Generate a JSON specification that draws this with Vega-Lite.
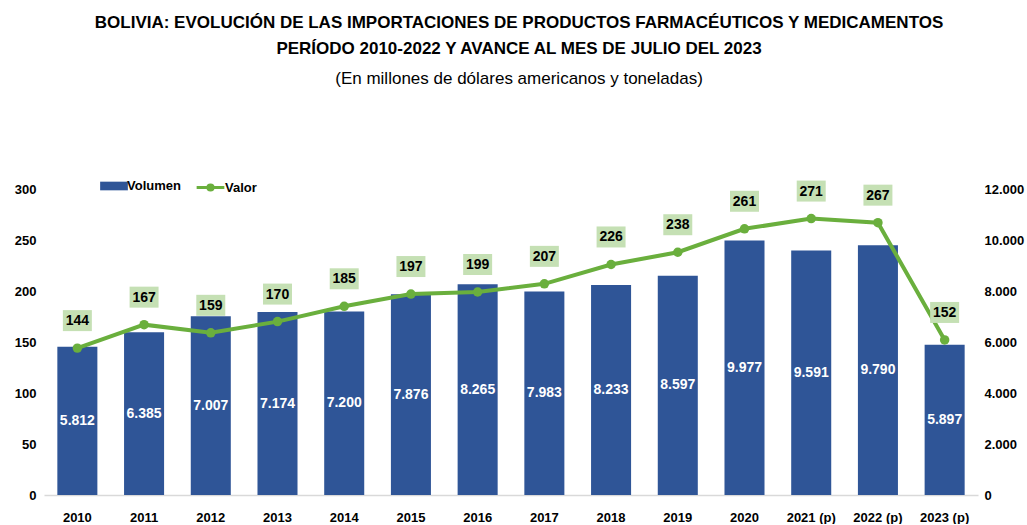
{
  "$schema": "https://vega.github.io/schema/vega-lite/v6.json",
  "width": 934,
  "height": 306,
  "autosize": {"type": "pad"},
  "padding": {"left": 14, "top": 14, "right": 2, "bottom": 0},
  "config": {
    "locale": {"number": {"decimal": ",", "thousands": ".", "grouping": [3], "currency": ["$", ""]}},
    "view": {"stroke": null},
    "font": "Liberation Sans, Arial"
  },
  "title": {
    "text": ["BOLIVIA: EVOLUCIÓN DE LAS IMPORTACIONES DE PRODUCTOS FARMACÉUTICOS Y MEDICAMENTOS", "PERÍODO 2010-2022 Y AVANCE AL MES DE JULIO DEL 2023"],
    "subtitle": "(En millones de dólares americanos y toneladas)",
    "fontSize": 17,
    "fontWeight": "bold",
    "lineHeight": 26,
    "color": "#000000",
    "subtitleFontSize": 17,
    "subtitleColor": "#000000",
    "subtitlePadding": 13,
    "offset": 89,
    "anchor": "middle",
    "frame": "bounds"
  },
  "data": {
    "values": [
      {"anio": "2010", "vol": 5812, "valor": 144},
      {"anio": "2011", "vol": 6385, "valor": 167},
      {"anio": "2012", "vol": 7007, "valor": 159},
      {"anio": "2013", "vol": 7174, "valor": 170},
      {"anio": "2014", "vol": 7200, "valor": 185},
      {"anio": "2015", "vol": 7876, "valor": 197},
      {"anio": "2016", "vol": 8265, "valor": 199},
      {"anio": "2017", "vol": 7983, "valor": 207},
      {"anio": "2018", "vol": 8233, "valor": 226},
      {"anio": "2019", "vol": 8597, "valor": 238},
      {"anio": "2020", "vol": 9977, "valor": 261},
      {"anio": "2021 (p)", "vol": 9591, "valor": 271},
      {"anio": "2022 (p)", "vol": 9790, "valor": 267},
      {"anio": "2023 (p)", "vol": 5897, "valor": 152}
    ]
  },
  "encoding": {
    "x": {
      "field": "anio",
      "type": "nominal",
      "sort": null,
      "scale": {"paddingInner": 0.4, "paddingOuter": 0.2},
      "axis": {"title": null, "labelAngle": 0, "labelFontWeight": "bold", "labelFontSize": 13, "labelColor": "#000000", "ticks": false, "domain": true, "domainColor": "#d9d9d9", "domainWidth": 1.5, "labelPadding": 16}
    }
  },
  "layer": [
    {
      "mark": {"type": "bar", "color": "#2f5597"},
      "encoding": {
        "y": {"field": "vol", "type": "quantitative", "scale": {"domain": [0, 12000]},
          "axis": {"orient": "right", "title": null, "values": [0, 2000, 4000, 6000, 8000, 10000, 12000], "format": ",.0f", "grid": false, "ticks": false, "domain": false, "labelFontWeight": "bold", "labelFontSize": 13, "labelColor": "#000000", "labelPadding": 6}},
        "color": {"datum": "Volumen", "scale": {"range": ["#2f5597"]},
          "legend": {"title": null, "orient": "none", "legendX": 61, "legendY": -12, "symbolType": "M-1.6,-0.5H1.6V0.5H-1.6Z", "symbolSize": 300, "labelFontWeight": "bold", "labelFontSize": 13, "labelColor": "#000000", "symbolStrokeWidth": 0}}
      }
    },
    {
      "mark": {"type": "text", "color": "white", "fontWeight": "bold", "fontSize": 14, "baseline": "middle"},
      "encoding": {
        "y": {"field": "vol", "type": "quantitative", "scale": {"domain": [0, 24000]}, "axis": null},
        "text": {"field": "vol", "type": "quantitative", "format": ",.0f"}
      }
    },
    {
      "mark": {"type": "line", "strokeWidth": 4, "point": {"filled": true, "size": 90}},
      "encoding": {
        "y": {"field": "valor", "type": "quantitative", "scale": {"domain": [0, 300]},
          "axis": {"orient": "left", "title": null, "values": [0, 50, 100, 150, 200, 250, 300], "grid": false, "ticks": false, "domain": false, "labelFontWeight": "bold", "labelFontSize": 13, "labelColor": "#000000", "labelPadding": 8}},
        "color": {"datum": "Valor", "scale": {"range": ["#6aaf3d"]},
          "legend": {"title": null, "orient": "none", "legendX": 156, "legendY": -12, "symbolType": "M-1.6,0H1.6M-0.3,0A0.3,0.3,0,1,1,0.3,0A0.3,0.3,0,1,1,-0.3,0", "symbolSize": 300, "symbolStrokeWidth": 3, "symbolFillColor": "#6aaf3d", "symbolStrokeColor": "#6aaf3d", "labelFontWeight": "bold", "labelFontSize": 13, "labelColor": "#000000"}}
      }
    },
    {
      "mark": {"type": "point", "shape": "M-1.38,-3.62H1.38V-1.62H-1.38Z", "size": 441, "filled": true, "color": "#c5e0b4", "opacity": 1},
      "encoding": {
        "y": {"field": "valor", "type": "quantitative", "scale": {"domain": [0, 300]}, "axis": null}
      }
    },
    {
      "mark": {"type": "text", "color": "#000000", "fontWeight": "bold", "fontSize": 14, "baseline": "middle", "dy": -27},
      "encoding": {
        "y": {"field": "valor", "type": "quantitative", "scale": {"domain": [0, 300]}, "axis": null},
        "text": {"field": "valor", "type": "quantitative"}
      }
    }
  ],
  "resolve": {"scale": {"y": "independent", "color": "independent"}}
}
